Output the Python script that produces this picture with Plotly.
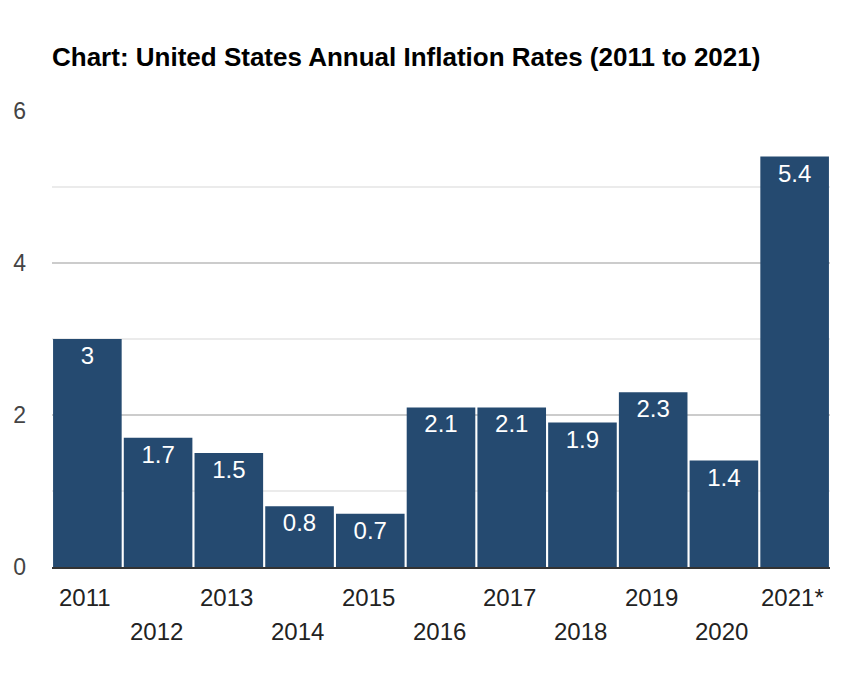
import plotly.graph_objects as go

years = ["2011", "2012", "2013", "2014", "2015", "2016", "2017", "2018", "2019", "2020", "2021*"]
rates = [3, 1.7, 1.5, 0.8, 0.7, 2.1, 2.1, 1.9, 2.3, 1.4, 5.4]
rate_labels = ["3", "1.7", "1.5", "0.8", "0.7", "2.1", "2.1", "1.9", "2.3", "1.4", "5.4"]
y_ticks = [0, 2, 4, 6]

FONT = "Arial, Liberation Sans, sans-serif"

fig = go.Figure()
fig.add_trace(go.Bar(
    x=years, y=rates, text=rate_labels,
    textposition="inside", insidetextanchor="end",
    textfont=dict(family=FONT, size=24, color="white"),
    marker=dict(color="#254A70", line=dict(width=0)),
    hoverinfo="skip",
))

annotations = []
for i, yr in enumerate(years):
    annotations.append(dict(
        x=i, xref="x", y=0, yref="paper",
        text=yr, showarrow=False, yanchor="top", xanchor="center",
        xshift=-2,
        yshift=-15 if i % 2 == 0 else -49,
        font=dict(family=FONT, size=24, color="#222222"),
    ))

fig.update_layout(
    width=854, height=676,
    margin=dict(l=44, r=32, t=103, b=117, autoexpand=False),
    paper_bgcolor="white", plot_bgcolor="white",
    bargap=0.03,
    showlegend=False,
    title=dict(
        text="<b>Chart: United States Annual Inflation Rates (2011 to 2021)</b>",
        x=44 / 854, xanchor="left", xref="container",
        y=1 - 49 / 676, yref="container", yanchor="middle",
        font=dict(family=FONT, size=26, color="black"),
    ),
    annotations=annotations,
    xaxis=dict(
        type="category", categoryorder="array", categoryarray=years,
        range=[-0.5, len(years) - 0.5], autorange=False,
        showticklabels=False, showgrid=False, zeroline=False,
        showline=True, linecolor="#333333", linewidth=2,
        fixedrange=True, automargin=False,
    ),
    yaxis=dict(
        range=[0, 6], tickvals=y_ticks, ticktext=[str(v) for v in y_ticks],
        showgrid=True, gridcolor="#cccccc", gridwidth=2,
        minor=dict(dtick=1, showgrid=True, gridcolor="#ebebeb", gridwidth=2),
        zeroline=False, showline=False,
        tickfont=dict(family=FONT, size=23, color="#444444"),
        ticklabelstandoff=25,
        fixedrange=True, automargin=False,
    ),
)

fig.write_html("out.html")
